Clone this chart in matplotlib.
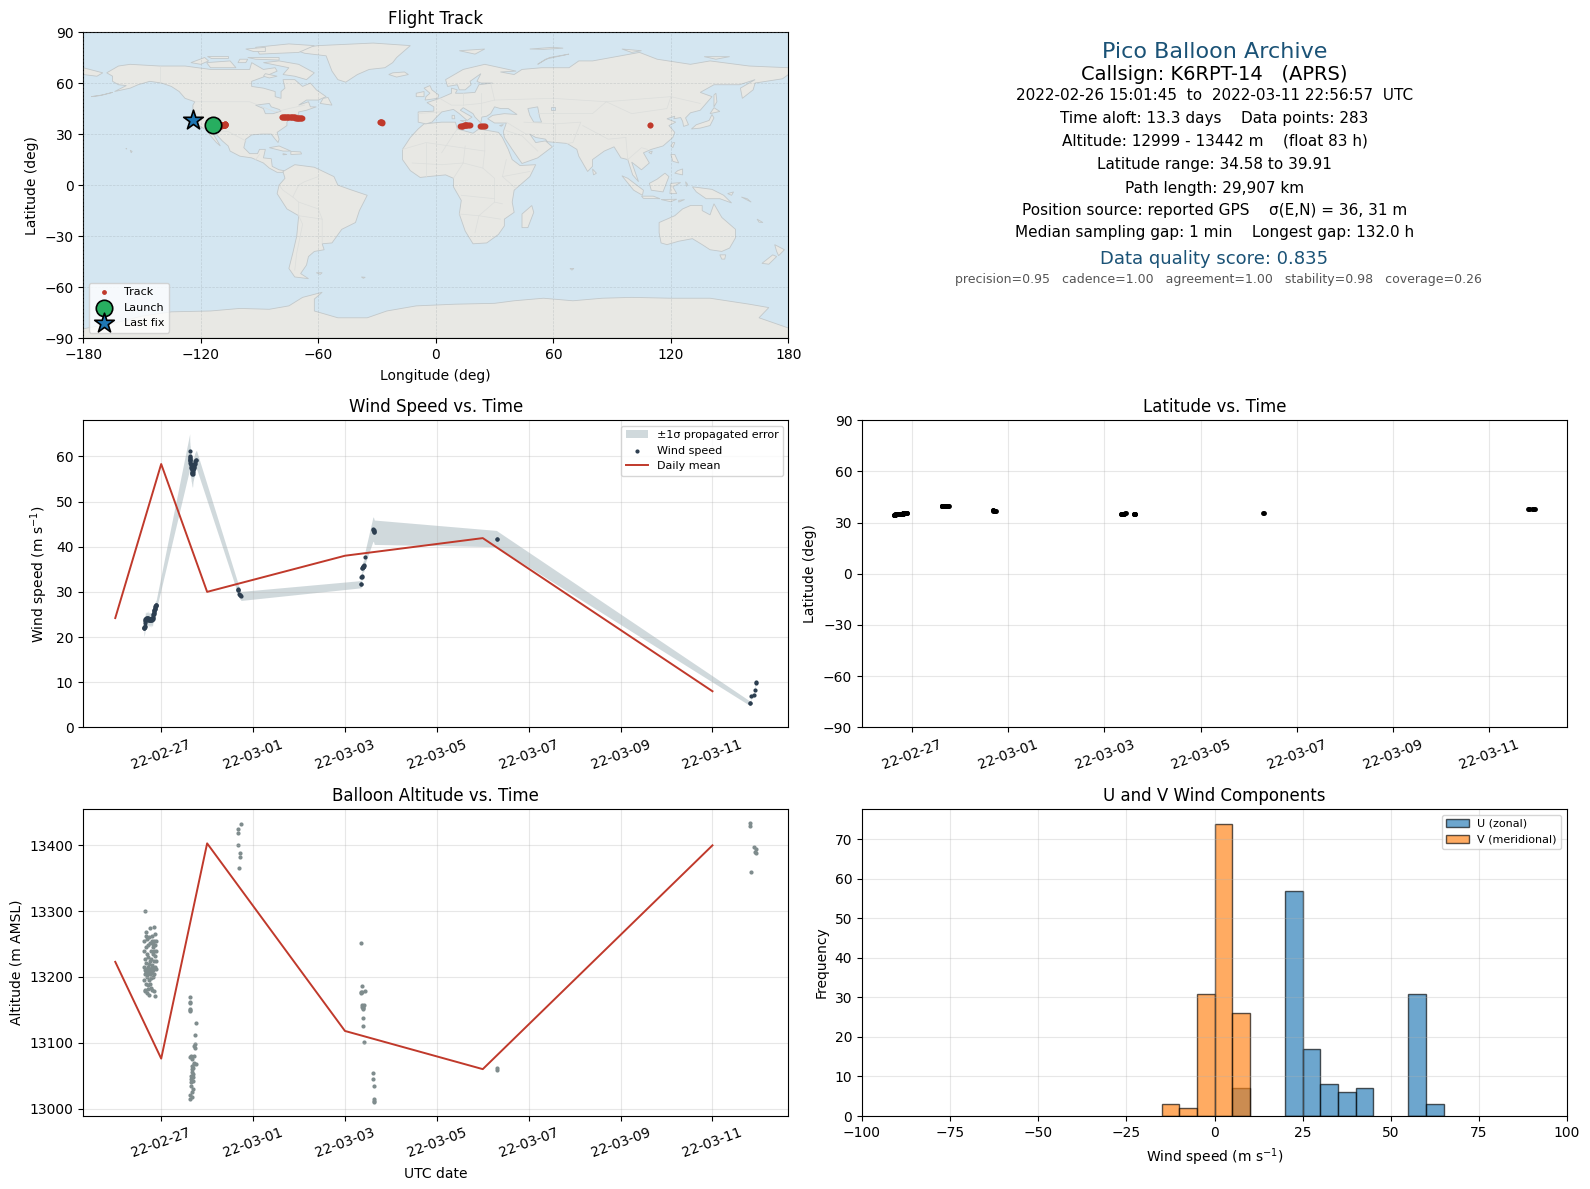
import numpy as np
import pandas as pd
import matplotlib
matplotlib.use("Agg")
import matplotlib.pyplot as plt
import matplotlib.dates as mdates
from matplotlib.patches import Polygon

W, H = 1590, 1189
RED = "#c0392b"; NAVY = "#2c3e50"; GREY = "#7f8c8d"; TITLEBLUE = "#1a5276"
SEA = "#d4e6f1"; LAND = "#e8e8e4"; COAST = "#c2c8ca"

# ---------- flight data, day offsets from 2022-02-27 00:00 UTC ----------
a_t = [-0.375,-0.372,-0.368,-0.365,-0.361,-0.358,-0.352,-0.349,-0.346,-0.342,
       -0.339,-0.335,-0.331,-0.328,-0.325,-0.321,-0.318,-0.314,-0.310,-0.307,
       -0.303,-0.299,-0.296,-0.292,-0.288,-0.285,-0.281,-0.277,-0.273,-0.270,
       -0.266,-0.262,-0.258,-0.254,-0.250,-0.247,-0.243,-0.239,-0.235,-0.231,
       -0.227,-0.223,-0.219,-0.215,-0.211,-0.207,-0.203,-0.199,-0.195,-0.191,
       -0.187,-0.183,-0.179,-0.175,-0.171,-0.167,-0.163,-0.159,-0.155,-0.151,
       -0.147,-0.143,-0.139,-0.135,-0.131,-0.127,-0.122,-0.117,-0.112,-0.106]
a_speed = [22.0,21.9,22.2,22.1,22.4,22.3,23.0,23.5,23.8,23.9,
           24.0,23.7,23.9,24.2,24.1,23.8,24.0,24.3,24.1,23.9,
           24.0,24.2,23.8,24.1,23.9,24.0,24.2,24.3,24.0,23.8,
           24.1,23.9,23.7,24.0,23.8,24.1,24.0,23.9,23.8,24.0,
           24.1,23.9,23.7,23.8,24.0,23.9,24.2,24.0,23.8,23.9,
           24.0,24.3,24.5,24.8,25.0,25.2,25.4,25.5,25.7,25.9,
           26.0,26.2,26.3,26.5,26.6,26.8,26.9,27.0,27.1,27.2]
a_alt = [13195,13255,13215,13240,13180,13205,13210,13300,13178,13228,
         13262,13245,13190,13208,13222,13268,13176,13212,13235,13200,
         13258,13205,13188,13215,13182,13230,13210,13248,13195,13206,
         13172,13220,13260,13212,13252,13190,13275,13205,13225,13240,
         13183,13210,13198,13228,13262,13206,13215,13255,13180,13218,
         13245,13200,13235,13210,13250,13276,13225,13178,13240,13205,
         13255,13232,13171,13215,13265,13248,13225,13240,13255,13212]
a_err = [1.8,1.7,1.8,1.6,1.7,1.5,1.4,1.3,1.5,1.6,
         1.4,1.6,1.5,1.3,1.6,1.4,1.5,1.3,1.4,1.5,
         1.4,1.5,1.4,1.6,1.3,1.5,1.4,1.6,1.5,1.4,
         1.3,1.5,1.6,1.4,1.5,1.3,1.4,1.6,1.5,1.4,
         1.3,1.5,1.6,1.4,1.3,1.5,1.4,1.6,1.3,1.5,
         1.4,1.3,1.2,1.3,1.2,1.1,1.2,1.1,1.2,1.1,
         1.0,1.1,1.0,1.1,1.0,1.1,1.0,1.1,1.0,1.1]
a_lat = [34.58,34.6,34.62,34.65,34.66,34.7,34.72,34.74,34.76,34.78,
         34.8,34.82,34.83,34.85,34.86,34.88,34.9,34.92,34.93,34.94,
         34.95,34.96,34.98,35.0,35.01,35.02,35.03,35.04,35.05,35.06,
         35.07,35.08,35.09,35.1,35.11,35.12,35.13,35.14,35.15,35.16,
         35.17,35.18,35.19,35.2,35.22,35.24,35.26,35.28,35.3,35.32,
         35.34,35.36,35.38,35.4,35.42,35.44,35.46,35.48,35.5,35.52,
         35.54,35.56,35.58,35.6,35.62,35.65,35.68,35.72,35.78,35.85]
a_lon = [-113.4,-113.2,-113.0,-112.8,-112.6,-112.5,-112.2,-112.0,-111.9,-111.7,
         -111.6,-111.4,-111.3,-111.2,-111.1,-110.9,-110.8,-110.7,-110.6,-110.5,
         -110.4,-110.3,-110.2,-110.1,-110.0,-109.9,-109.9,-109.8,-109.7,-109.6,
         -109.5,-109.5,-109.4,-109.3,-109.2,-109.2,-109.1,-109.0,-109.0,-108.9,
         -108.9,-108.8,-108.8,-108.7,-108.7,-108.6,-108.6,-108.5,-108.5,-108.4,
         -108.4,-108.3,-108.3,-108.2,-108.2,-108.1,-108.1,-108.0,-108.0,-107.9,
         -107.9,-107.8,-107.8,-107.7,-107.7,-107.6,-107.6,-107.5,-107.5,-107.4]

b_t = [.620,.622,.624,.626,.628,.630,.632,.634,.636,.640,.644,.648,.652,.656,.660,.664,.668,
       .672,.676,.680,.684,.688,.692,.696,.700,.706,.712,.718,.724,.730,.738,.746,.756,.768]
b_speed = [61.1,60.0,59.9,59.6,59.4,59.2,59.3,58.9,58.6,58.4,58.2,58.0,57.6,57.4,57.2,56.9,56.6,
           56.3,56.2,56.4,56.2,56.6,57.0,57.2,57.1,57.4,57.6,57.8,58.2,58.4,58.6,58.9,59.2,59.3]
b_alt = [13169,13162,13150,13148,13160,13152,13015,13020,13078,13080,13035,13040,13045,13050,13055,13060,13065,
         13075,13018,13025,13030,13048,13052,13062,13042,13070,13068,13080,13095,13092,13112,13098,13130,13068]
b_err = [3.9,3.4,3.2,3.3,3.1,3.0,3.2,3.0,3.1,2.9,3.0,2.9,3.1,3.0,3.1,2.9,3.0,
         3.0,3.1,2.9,3.0,2.8,2.7,2.6,2.5,2.4,2.3,2.4,2.2,2.3,2.2,2.1,2.0,2.0]
b_lat = [39.91,39.9,39.9,39.89,39.88,39.88,39.87,39.86,39.85,39.85,39.84,39.83,39.82,39.82,39.81,39.8,39.79,
         39.78,39.77,39.76,39.75,39.74,39.73,39.72,39.7,39.68,39.66,39.65,39.62,39.6,39.58,39.55,39.52,39.5]
b_lon = [-78.6,-78.3,-78.0,-77.7,-77.4,-77.1,-76.8,-76.5,-76.2,-75.8,-75.5,-75.2,-74.8,-74.5,-74.1,-73.8,-73.5,
         -73.2,-72.9,-72.6,-72.3,-72.0,-71.7,-71.4,-71.1,-70.8,-70.5,-70.2,-69.9,-69.6,-69.3,-69.0,-68.8,-68.5]

c_t = [1.674,1.674,1.681,1.703,1.717,1.725,1.739]
c_speed = [30.6,30.5,30.4,29.6,29.4,29.3,29.1]
c_alt = [13425,13418,13400,13365,13383,13389,13433]
c_err = [1.2,1.2,1.1,1.1,1.0,1.0,1.0]
c_lat = [37.2,37.1,37.0,36.9,36.85,36.8,36.7]
c_lon = [-28.4,-28.3,-28.2,-28.0,-27.8,-27.6,-27.4]

d_t = [4.35,4.352,4.36,4.365,4.37,4.375,4.38,4.385,4.39,4.392,4.395,4.40,4.41,4.42,4.44,
       4.61,4.62,4.625,4.63,4.635,4.64]
d_speed = [31.7,31.8,33.3,33.4,33.5,35.2,35.3,35.4,35.5,35.6,35.5,35.7,35.8,36.0,37.7,
           43.9,43.8,43.7,43.5,43.3,43.2]
d_alt = [13177,13176,13251,13186,13177,13158,13155,13153,13151,13154,13137,13125,13158,13101,13178,
         13054,13045,13034,13014,13012,13010]
d_err = [0.8,0.8,0.9,0.9,1.0,1.0,1.0,1.1,1.1,1.1,1.2,1.2,1.2,1.3,1.4,
         2.7,2.7,2.7,2.7,2.7,2.7]
d_lat = [34.8,34.85,34.9,34.95,35.0,35.05,35.1,35.15,35.2,35.2,35.25,35.3,35.3,35.35,35.4,
         34.9,34.85,34.82,34.8,34.78,34.75]
d_lon = [12.4,12.8,13.2,13.6,14.0,14.4,14.8,15.0,15.2,15.4,15.6,15.9,16.3,16.8,17.4,
         22.6,23.0,23.5,23.9,24.4,24.9]

e_t = [7.30,7.31]
e_speed = [41.8,41.7]
e_alt = [13059,13061]
e_err = [1.8,1.8]
e_lat = [35.6,35.5]
e_lon = [109.1,109.3]

f_t = [12.82,12.825,12.84,12.90,12.92,12.94,12.955]
f_speed = [5.3,5.4,7.0,7.1,8.2,9.9,10.0]
f_alt = [13434,13430,13360,13397,13390,13388,13394]
f_err = [0.5,0.5,0.5,0.5,0.5,0.5,0.5]
f_lat = [37.8,37.8,37.85,37.9,37.9,37.9,37.9]
f_lon = [-123.6,-123.7,-123.8,-124.0,-124.0,-124.1,-124.2]

launch_lon, launch_lat = -113.6, 35.1
last_lon, last_lat = -124.1, 38.1

# daily means
daily_dates = ["2022-02-26","2022-02-27","2022-02-28","2022-03-03","2022-03-06","2022-03-11"]
daily_speed = [24.2,58.3,30.0,38.0,41.9,8.0]
daily_alt = [13223,13076,13403,13118,13060,13400]

# U / V histogram counts, 5 m/s bins from -100 to 100
bin_lefts = [-15,-10,-5,0,5,20,25,30,35,40,55,60]
u_counts  = [0,0,0,0,7,57,17,8,6,7,31,3]
v_counts  = [3,2,31,74,26,0,0,0,0,0,0,0]

# ---------- hand-digitised world outline (lon, lat) ----------
land = [
 [(-168,66),(-162,70),(-156,71),(-141,70),(-128,70),(-115,68),(-108,68),(-95,68),(-94,72),(-88,68),(-82,69),(-81,67),(-87,64),(-94,61),(-94,58),(-88,57),(-82,55),(-82,52),(-79,51),(-79,55),(-77,57),(-78,62),(-72,62),(-68,58),(-64,60),(-61,56),(-56,52),(-60,50),(-66,50),(-70,47),(-65,49),(-64,46),(-61,46),(-66,44),(-70,43),(-70,41.5),(-74,40.5),(-76,37),(-76,35),(-81,31),(-80,27),(-80.5,25),(-82,27),(-84,30),(-89,30),(-94,29.5),(-97,27),(-98,22),(-95,18.5),(-91,18.5),(-90,21),(-87,21),(-88,16),(-84,15.5),(-83.5,11),(-80,9),(-77.5,8.5),(-78,7.5),(-81,7.5),(-85,10),(-88,13),(-94,16),(-100,17),(-105,20),(-106,23),(-109,26),(-113,31),(-114.5,31.5),(-112,27),(-110,23),(-112,25),(-115,29),(-117,32.5),(-120.5,34.5),(-122.5,38),(-124,41),(-124,47),(-123,49),(-128,51),(-131,55),(-135,58),(-140,60),(-146,61),(-152,59),(-156,57),(-164,55),(-158,58.5),(-162,59),(-165,61),(-165,64)],
 [(-73,80),(-60,82),(-32,83.5),(-13,82),(-20,75),(-22,72),(-26,69),(-34,68),(-40,65),(-46,60.5),(-50,62),(-53,67),(-56,76),(-67,77.5)],
 [(-80,73),(-70,71),(-62,66),(-66,62),(-72,64),(-78,65),(-75,69),(-88,72)],
 [(-117,72),(-105,73),(-102,69),(-115,69)],
 [(-90,77),(-70,78),(-62,82),(-75,83),(-92,81)],
 [(-125,72),(-118,75),(-116,73),(-120,71)],
 [(-96,75),(-80,75),(-80,73.5),(-92,74)],
 [(-117,76),(-106,76),(-106,75),(-115,75)],
 [(-100,74),(-96,74),(-97,72),(-101,72)],
 [(-97,80),(-87,81),(-87,78.5),(-93,78.5)],
 [(-87,65.5),(-81,64),(-85,63),(-88,64)],
 [(-59,48),(-53,47),(-55,51.5),(-57.5,51)],
 [(-85,22),(-80,23),(-74,20),(-78,20)],
 [(-74,19.8),(-69,19.5),(-68.5,18.3),(-74,18)],
 [(-78,18.5),(-76,18),(-78,17.8)],
 [(-156,20.5),(-155,19.8),(-155.5,19)],
 [(-158.2,21.6),(-157.7,21.4),(-158,21.2)],
 [(-176,52),(-170,53),(-165,54.5),(-172,52.5)],
 [(-78,8),(-72,12),(-62,10.5),(-52,5),(-50,0),(-44,-2.5),(-35,-6),(-39,-15),(-41,-22),(-48,-26),(-53,-34),(-58,-34.5),(-57,-38),(-62,-39),(-65,-42),(-66,-47),(-69,-52),(-65,-55),(-72,-54),(-75,-49),(-73,-40),(-71,-30),(-70,-18),(-76,-14),(-81,-5),(-80,0),(-77,4)],
 [(-61,-51.5),(-58,-51.5),(-59,-52.5)],
 [(-38,-54),(-36,-54.2),(-37,-54.8)],
 [(-17,15),(-17,21),(-13,28),(-9,33),(-6,36),(3,37),(10,37),(11,33),(19,30.5),(22,33),(32,31),(34,28),(37,21),(39,15),(43,11.5),(51,12),(48,5),(40,-3),(39,-10),(40,-16),(35,-20),(35,-24),(32,-29),(26,-34),(19,-34.5),(15,-27),(12,-17),(13,-9),(9,-1),(9,4),(5,6),(-4,5),(-8,4.5),(-13,8.5)],
 [(49,-12),(50,-16),(47,-25),(44,-25),(44,-17)],
 [(-9,37),(-9,43),(-1,43.5),(-1,46),(-4.5,48.5),(2,51),(8,54),(8,57),(11,56),(10,54),(14,54),(20,54.5),(22,59),(29,60),(23,60),(21,61),(23,65.5),(17.5,61),(18,59),(15,56),(12,56),(11,59),(6,58),(5,62),(14,68),(25,71),(41,67),(33,66.5),(40,65),(44,68),(54,69),(68,69),(73,73),(80,73),(104,78),(113,74),(130,71),(140,73),(160,70),(180,69),(180,65),(177,62.5),(163,60),(162,56),(156.5,51),(155.5,57),(163,62),(155,59),(142,59),(135,54.5),(141,52),(135,44),(130,42.5),(127.5,39.5),(129,35.5),(126.5,34.5),(126,37.5),(125,39.7),(121.5,39),(122,40.5),(118,39),(122.5,37),(119,35),(122,31),(121,28),(116,23),(110,21),(106,19),(109,13),(105,9),(100,13.5),(103.5,2),(100.5,6),(98,15),(94.5,16),(91,22.5),(86,20),(80,15),(80,11),(77.5,8),(73,17),(72,21),(67,24.5),(57,25.5),(56,27),(51,28),(48,30),(51,25),(56,26),(59.5,22.5),(52,16),(44,12.7),(39,21),(35,28),(34.5,31.5),(36,36.5),(30,36.5),(26.5,39),(29,41),(35,42),(41.5,41.5),(37,45),(33,45),(30,46),(28,42),(26,40.5),(23.5,40),(23,36.5),(20,40),(19,42),(14,45.5),(12.5,44),(18.5,40),(16,38),(12,42),(9,44.5),(3,43),(0,39.5),(-2,37),(-5,36)],
 [(-180,69),(-170,66),(-173,64),(-180,65)],
 [(-5.5,50),(1,51),(1.5,53),(-2,56),(-3,58.5),(-6,57),(-3,54),(-5,52)],
 [(-10,52),(-6,52),(-6,55),(-10,54)],
 [(-24,65),(-20,63.5),(-14,65),(-16,66.5),(-22,66)],
 [(12,79),(25,80),(20,77)],
 [(52,71),(56,74),(68,77),(58,75)],
 [(48,80),(60,81),(65,80.5),(55,79.8)],
 [(95,80),(105,79),(100,78)],
 [(137,75.5),(150,75.5),(143,74)],
 [(12.5,38),(15.5,38),(15,36.7)],
 [(8.3,39),(9.7,39),(9.5,41),(8.3,41)],
 [(23.5,35.5),(26,35.2),(24,35)],
 [(32.5,35),(34.5,35.6),(33.5,34.6)],
 [(130.5,33),(135,33.5),(140,35),(142,39.5),(141,41.5),(139.5,38),(133,35.5)],
 [(140,42),(145,43.3),(142,45.5)],
 [(142,46),(143.5,49),(143,54),(142,53)],
 [(120,23),(121,22),(122,25),(121,25)],
 [(108.7,19.3),(110.5,20),(110,18.3)],
 [(80,9.5),(82,7),(80.5,6)],
 [(120,18),(122,18),(124,13),(121,14)],
 [(122,7),(126,6),(126,9.5),(123.5,8.5)],
 [(95,5.5),(98,4),(106,-3),(105.5,-6),(101,-3)],
 [(105,-6.5),(111,-6.5),(114.5,-8),(106,-7.8)],
 [(115,-8.5),(123,-8.3),(120,-9.8)],
 [(124,-10),(127,-8.5),(124,-9)],
 [(109,1),(113,3.5),(117,7),(119,5),(117.5,0.5),(116,-4),(110,-3)],
 [(119.5,-5),(120,1),(125,1.5),(121,-1),(123,-5)],
 [(127.5,2),(128.5,0.5),(128,-0.8)],
 [(131,-1),(141,-2.5),(147,-6),(151,-10.5),(145,-8),(138,-8),(133,-4)],
 [(149,-5),(152,-4),(151,-6)],
 [(156,-7),(161,-10),(159,-8)],
 [(164,-20),(167,-22),(165,-21.8)],
 [(114,-22),(122,-18),(126,-14),(130,-12),(136,-12),(136,-15),(140,-17.5),(142,-11),(146,-19),(153,-26),(153,-31),(150,-37),(146,-39),(140,-38),(136,-35),(131,-31.5),(124,-33),(118,-35),(115,-34),(114,-28)],
 [(145,-41),(148,-41),(147.5,-43.5),(146,-43.5)],
 [(173,-35),(178,-38),(175,-41.5),(174,-39)],
 [(172,-41),(174,-42),(170,-46.5),(166.5,-46)],
 [(68.5,-49),(70.5,-49),(69.5,-50)],
 [(-180,-90),(-180,-84.5),(-160,-80),(-150,-77),(-135,-74.5),(-115,-74),(-100,-72.5),(-85,-73),(-75,-71),(-68,-66),(-58,-63),(-62,-67),(-62,-74),(-50,-78),(-35,-78),(-25,-74),(-10,-71),(10,-70),(30,-69.5),(40,-68),(55,-66.5),(70,-68),(85,-66.5),(100,-66),(120,-66.5),(140,-66.5),(160,-70),(170,-72),(165,-78),(180,-84),(180,-90)],
]
inland_seas = [
 [(47,45),(52,46),(53,40),(54,37),(50,37),(48,41)],
 [(-92,47),(-85,48),(-84,46),(-80,44.5),(-79,43.5),(-83,42),(-87,42),(-88,45)],
 [(59,46),(61,46),(61,44),(59,44)],
]
borders = [
 [(-123,49),(-95,49),(-82,43),(-75,45),(-67,47)],[(-141,70),(-141,60)],[(-117,32.5),(-106,31.5),(-97,26)],
 [(-92,15),(-90,18)],[(-70,-18),(-58,-20),(-58,-34)],[(-70,-18),(-70,-10),(-73,-7),(-70,0),(-67,2),(-60,5)],
 [(-70,-18),(-68,-23),(-71,-40),(-72,-50)],[(-70,-10),(-60,-14),(-58,-20)],[(-73,-7),(-78,-3),(-80,0)],
 [(-17,21),(-5,25),(25,20),(25,31)],[(15,23),(14,13),(3,12),(-12,13)],[(25,20),(24,10),(30,4),(30,-10),(22,-18),(20,-28)],
 [(34,-11),(30,-10)],[(-5,25),(-5,5)],[(14,13),(9,4)],[(36,15),(34,5),(41,-2)],[(34,5),(48,8)],[(12,-17),(22,-18),(33,-20)],
 [(13,-6),(30,-8)],[(11,33),(8,28),(3,19)],[(24,10),(14,13)],
 [(30,50),(60,51),(87,49),(120,52),(135,48)],[(75,35),(88,27),(97,28)],[(2,43),(-9,42)],[(2,51),(8,47),(14,47),(23,48),(30,50)],
 [(14,54),(14,47)],[(23,54),(23,42)],[(36,37),(46,30),(48,30)],[(45,37),(61,36),(61,25)],[(61,36),(74,37),(70,25),(67,24.5)],
 [(52,42),(70,42),(80,42),(87,49)],[(87,49),(100,42),(118,45),(120,52)],[(98,15),(105,22),(108,21)],[(97,28),(98,15)],
 [(28,60),(30,50)],[(36,32),(44,29),(52,20)],
]

# ---------- assemble ----------
base = pd.Timestamp("2022-02-27")
t_days = np.array(a_t + b_t + c_t + d_t + e_t + f_t)
times = base + pd.to_timedelta(t_days, unit="D")
speed = np.array(a_speed + b_speed + c_speed + d_speed + e_speed + f_speed)
alt = np.array(a_alt + b_alt + c_alt + d_alt + e_alt + f_alt)
err = np.array(a_err + b_err + c_err + d_err + e_err + f_err)
lat = np.array(a_lat + b_lat + c_lat + d_lat + e_lat + f_lat)
lon = np.array(a_lon + b_lon + c_lon + d_lon + e_lon + f_lon)
daily_t = pd.to_datetime(daily_dates)

fig = plt.figure(figsize=(W / 100, H / 100), dpi=100)

def box(x0, y0, x1, y1):
    return fig.add_axes([x0 / W, 1 - y1 / H, (x1 - x0) / W, (y1 - y0) / H])

LX = (83.2, 788.4); RX = (862, 1567)
T = (32, 338.2); M = (420.2, 727.4); B = (809, 1116)

def style_time(ax):
    ax.xaxis.set_major_locator(mdates.DayLocator(bymonthday=range(1, 32, 2)))
    ax.xaxis.set_major_formatter(mdates.DateFormatter("%y-%m-%d"))
    ax.tick_params(axis="x", rotation=20)
    ax.grid(True, alpha=0.3)

# map
ax = box(LX[0], T[0], LX[1], T[1])
ax.set_facecolor(SEA)
for poly in land:
    ax.add_patch(Polygon(poly, closed=True, facecolor=LAND, edgecolor=COAST, linewidth=0.6, zorder=1))
for poly in inland_seas:
    ax.add_patch(Polygon(poly, closed=True, facecolor=SEA, edgecolor=COAST, linewidth=0.6, zorder=1.1))
for line in borders:
    xs, ys = zip(*line)
    ax.plot(xs, ys, color="#dcdedc", linewidth=0.5, zorder=1.2)
ax.scatter(lon, lat, s=10, color=RED, zorder=3, label="Track")
ax.scatter([launch_lon], [launch_lat], s=140, color="#27ae60", edgecolor="black", linewidth=1.2, zorder=5, label="Launch")
ax.scatter([last_lon], [last_lat], s=220, marker="*", color="#1f77b4", edgecolor="black", linewidth=1.2, zorder=5, label="Last fix")
ax.set_xlim(-180, 180); ax.set_ylim(-90, 90)
ax.set_xticks(range(-180, 181, 60)); ax.set_yticks(range(-90, 91, 30))
ax.grid(True, color="#8a9599", alpha=0.3, linewidth=0.5, linestyle="--", zorder=2)
ax.set_axisbelow(False)
ax.set_xlabel("Longitude (deg)", labelpad=5); ax.set_ylabel("Latitude (deg)")
ax.set_title("Flight Track", fontsize=12)
leg = ax.legend(loc="lower left", fontsize=8)
leg.legend_handles[0].set_sizes([6])

# info panel
ax = box(RX[0], T[0], RX[1], T[1])
ax.axis("off")
def info(yp, s, dx=0.0, **kw):
    ax.text(0.5 + dx / (RX[1] - RX[0]), 1 - (yp - T[0]) / (T[1] - T[0]), s,
            transform=ax.transAxes, ha="center", va="center", **kw)
info(52, "Pico Balloon Archive", fontsize=16, color=TITLEBLUE)
info(74.5, "Callsign: K6RPT-14   (APRS)", fontsize=14)
info(95, "2022-02-26 15:01:45  to  2022-03-11 22:56:57  UTC", fontsize=11)
info(118, "Time aloft: 13.3 days    Data points: 283", fontsize=11)
info(141, "Altitude: 12999 - 13442 m    (float 83 h)", fontsize=11)
info(164, "Latitude range: 34.58 to 39.91", fontsize=11)
info(188, "Path length: 29,907 km", fontsize=11)
info(211, "Position source: reported GPS    \u03c3(E,N) = 36, 31 m", fontsize=11)
info(233, "Median sampling gap: 1 min    Longest gap: 132.0 h", fontsize=11)
info(258.5, "Data quality score: 0.835", fontsize=13, color=TITLEBLUE)
info(279, "precision=0.95   cadence=1.00   agreement=1.00   stability=0.98   coverage=0.26", dx=4, fontsize=9, color="#555555")

# wind speed
ax = box(LX[0], M[0], LX[1], M[1])
ax.fill_between(times, speed - err, speed + err, color="#6f8a94", alpha=0.32, linewidth=0, label="\u00b11\u03c3 propagated error")
ax.scatter(times, speed, s=4, color=NAVY, zorder=3, label="Wind speed")
ax.plot(daily_t, daily_speed, color=RED, linewidth=1.4, label="Daily mean")
ax.set_ylim(0, 68)
ax.set_ylabel("Wind speed (m s$^{-1}$)")
ax.set_title("Wind Speed vs. Time", fontsize=12)
style_time(ax)
ax.legend(loc="upper right", fontsize=8)

# latitude
ax = box(RX[0], M[0], RX[1], M[1])
ax.scatter(times, lat, s=6, color="black")
ax.set_ylim(-90, 90); ax.set_yticks(range(-90, 91, 30))
ax.set_ylabel("Latitude (deg)")
ax.set_title("Latitude vs. Time", fontsize=12)
style_time(ax)

# altitude
ax = box(LX[0], B[0], LX[1], B[1])
ax.scatter(times, alt, s=4, color=GREY)
ax.plot(daily_t, daily_alt, color=RED, linewidth=1.4)
ax.set_ylabel("Altitude (m AMSL)"); ax.set_xlabel("UTC date", labelpad=5)
ax.set_title("Balloon Altitude vs. Time", fontsize=12)
style_time(ax)

# histogram
ax = box(RX[0], B[0], RX[1], B[1])
ax.bar(bin_lefts, u_counts, width=5, align="edge", color="#1f77b4", alpha=0.65, edgecolor="black", label="U (zonal)")
ax.bar(bin_lefts, v_counts, width=5, align="edge", color="#ff7f0e", alpha=0.65, edgecolor="black", label="V (meridional)")
ax.set_xlim(-100, 100)
ax.set_xlabel("Wind speed (m s$^{-1}$)", labelpad=5); ax.set_ylabel("Frequency")
ax.set_title("U and V Wind Components", fontsize=12)
ax.grid(True, alpha=0.3)
ax.legend(loc="upper right", fontsize=8)

fig.savefig("out.png", dpi=100)
